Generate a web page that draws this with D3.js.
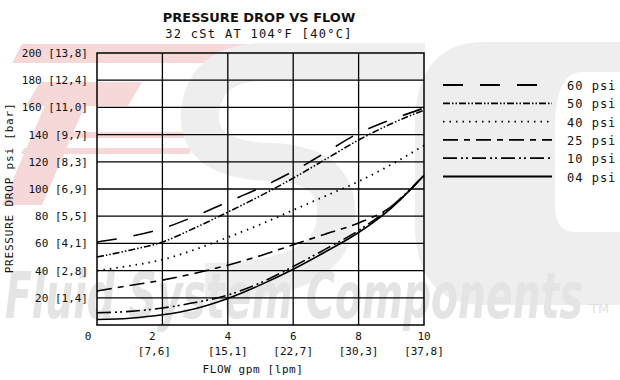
<!DOCTYPE html>
<html lang="en">
<head>
    <meta charset="UTF-8">
    <title>Pressure Drop vs Flow</title>
    <script src="https://d3js.org/d3.v7.min.js"></script>
    <style>
        body {
            margin: 0;
            padding: 0;
            background-color: white;
        }
        svg text {
            font-family: 'DejaVu Sans Mono', monospace;
            fill: #111;
        }
    </style>
</head>
<body>
    <svg id="chart" width="620" height="380"></svg>

    <script>
        // flow in gpm, pressure drop in psi
        const flow = [0, 1, 2, 3, 4, 5, 6, 7, 8, 9, 10];
        const psi60 = [61, 65, 71, 80, 90.5, 101, 113, 127, 141, 151, 159.5];
        const psi50 = [50, 55, 61, 71.5, 83, 95, 108, 122, 136, 148, 158];
        const psi40 = [40, 43.5, 48, 55.5, 64.5, 74, 84.5, 95, 105.5, 118, 132];
        const psi25 = [25, 29, 33, 38, 44, 51, 59, 67, 75, 87, 110];
        const psi10 = [9, 10, 12.5, 16.5, 22, 31, 43, 56, 69.5, 87, 110];
        const psi04 = [4, 5, 7.5, 12, 19.5, 29.5, 41, 54, 68, 86, 110];

        const seriesNames = ["60 psi", "50 psi", "40 psi", "25 psi", "10 psi", "04 psi"];
        const seriesValues = [psi60, psi50, psi40, psi25, psi10, psi04];
        const dashes = ["20,17", "7,2,1.5,2,1.5,2", "1.5,5", "15,6,6,6", "14,4,2,3,2,4", null];

        const xTicks = [2, 4, 6, 8, 10];
        const xTickLpm = ["[7,6]", "[15,1]", "[22,7]", "[30,3]", "[37,8]"];
        const yTicks = [20, 40, 60, 80, 100, 120, 140, 160, 180, 200];
        const yTickBar = ["[1,4]", "[2,8]", "[4,1]", "[5,5]", "[6,9]", "[8,3]", "[9,7]", "[11,0]", "[12,4]", "[13,8]"];

        const svg = d3.select("#chart");
        const plot = {left: 97, right: 424, top: 53, bottom: 325};

        const x = d3.scaleLinear().domain([0, 10]).range([plot.left, plot.right]);
        const y = d3.scaleLinear().domain([0, 200]).range([plot.bottom, plot.top]);

        // faint company logo watermark behind the chart
        const wm = svg.append("g");
        const red = "#f6d8d8", grey = "#eeeeee";
        [
            [[22, 44], [258, 44], [246, 63], [12, 63]],
            [[40, 82], [142, 82], [128, 106], [26, 106]],
            [[55, 82], [95, 82], [42, 205], [2, 205]],
            [[62, 132], [195, 132], [192, 138], [59, 138]],
            [[24, 148], [192, 148], [189, 154], [21, 154]]
        ].forEach(p => wm.append("polygon").attr("points", p.join(" ")).attr("fill", red));
        wm.append("path")
            .attr("d", "M425,62 L265,62 Q205,62 200,112 Q196,160 270,162 Q345,164 335,225 Q325,282 205,282")
            .attr("fill", "none").attr("stroke", grey).attr("stroke-width", 38);
        wm.append("path")
            .attr("d", "M620,42 L485,42 Q418,42 415,120 L415,228 Q418,305 485,305 L620,305 L620,232 " +
                       "L575,232 Q555,232 555,205 L555,130 Q555,72 582,72 L620,72 Z")
            .attr("fill", grey);
        wm.append("text")
            .attr("x", 5).attr("y", 318)
            .attr("textLength", 578).attr("lengthAdjust", "spacingAndGlyphs")
            .style("font-family", "'DejaVu Sans Condensed', 'DejaVu Sans', sans-serif")
            .style("font-weight", "bold").style("font-style", "italic")
            .style("font-size", "64px").style("fill", "#e4e4e4")
            .text("Fluid System Components");
        wm.append("text")
            .attr("x", 590).attr("y", 313)
            .style("font-family", "'DejaVu Sans', sans-serif")
            .style("font-size", "13px").style("fill", "#e0e0e0")
            .text("TM");

        // grid
        const grid = svg.append("g").attr("stroke", "#000").attr("stroke-width", 1.3);
        grid.selectAll("line.v").data(xTicks.slice(0, 4)).join("line")
            .attr("x1", d => x(d)).attr("x2", d => x(d))
            .attr("y1", plot.top).attr("y2", plot.bottom);
        grid.selectAll("line.h").data(yTicks.slice(0, 9)).join("line")
            .attr("x1", plot.left).attr("x2", plot.right)
            .attr("y1", d => y(d)).attr("y2", d => y(d));
        svg.append("rect")
            .attr("x", plot.left).attr("y", plot.top)
            .attr("width", plot.right - plot.left).attr("height", plot.bottom - plot.top)
            .attr("fill", "none").attr("stroke", "#000").attr("stroke-width", 1.5);

        // curves
        const line = d3.line().x((d, i) => x(flow[i])).y(d => y(d)).curve(d3.curveMonotoneX);
        svg.append("g").selectAll("path").data(seriesValues).join("path")
            .attr("d", d => line(d))
            .attr("fill", "none")
            .attr("stroke", "#000")
            .attr("stroke-width", (d, i) => i === 2 ? 1.8 : 1.6)
            .attr("stroke-dasharray", (d, i) => dashes[i]);

        // y tick labels
        svg.append("g").selectAll("text").data(yTicks).join("text")
            .attr("x", 88).attr("y", d => y(d) + 4)
            .attr("text-anchor", "end")
            .style("font-size", "11px")
            .text((d, i) => d + " " + yTickBar[i]);

        // x tick labels
        svg.append("text").attr("x", 88).attr("y", 340).attr("text-anchor", "middle")
            .style("font-size", "11px").text("0");
        svg.append("g").selectAll("text").data(xTicks).join("text")
            .attr("x", d => x(d) - (d === 2 ? 10 : 0)).attr("y", 340)
            .attr("text-anchor", "middle").style("font-size", "11px")
            .text(d => d);
        svg.append("g").selectAll("text").data(xTicks).join("text")
            .attr("x", d => x(d) - (d === 2 ? 8 : 0)).attr("y", 355)
            .attr("text-anchor", "middle").style("font-size", "11px")
            .text((d, i) => xTickLpm[i]);

        // axis titles
        svg.append("text").attr("x", 253).attr("y", 373).attr("text-anchor", "middle")
            .style("font-size", "11px").style("letter-spacing", "0.6px")
            .text("FLOW gpm [lpm]");
        svg.append("text")
            .attr("transform", "translate(13,188) rotate(-90)")
            .attr("text-anchor", "middle")
            .style("font-size", "11px").style("letter-spacing", "0.8px")
            .text("PRESSURE DROP psi [bar]");

        // title
        svg.append("text").attr("x", 259).attr("y", 22).attr("text-anchor", "middle")
            .style("font-family", "'DejaVu Sans', sans-serif")
            .style("font-weight", "bold").style("font-size", "13px")
            .text("PRESSURE DROP VS FLOW");
        svg.append("text").attr("x", 259).attr("y", 38).attr("text-anchor", "middle")
            .style("font-size", "12px").style("letter-spacing", "1.3px")
            .text("32 cSt AT 104°F [40°C]");

        // legend
        const legend = svg.append("g").selectAll("g").data(seriesNames).join("g")
            .attr("transform", (d, i) => `translate(0,${85 + i * 18.3})`);
        legend.append("line")
            .attr("x1", 443).attr("x2", 552).attr("y1", 0).attr("y2", 0)
            .attr("stroke", "#000").attr("stroke-width", 1.8)
            .attr("stroke-dasharray", (d, i) => dashes[i]);
        legend.append("text")
            .attr("x", 567).attr("y", 5)
            .style("font-size", "12px").style("letter-spacing", "1px")
            .text(d => d);
    </script>
</body>
</html>
